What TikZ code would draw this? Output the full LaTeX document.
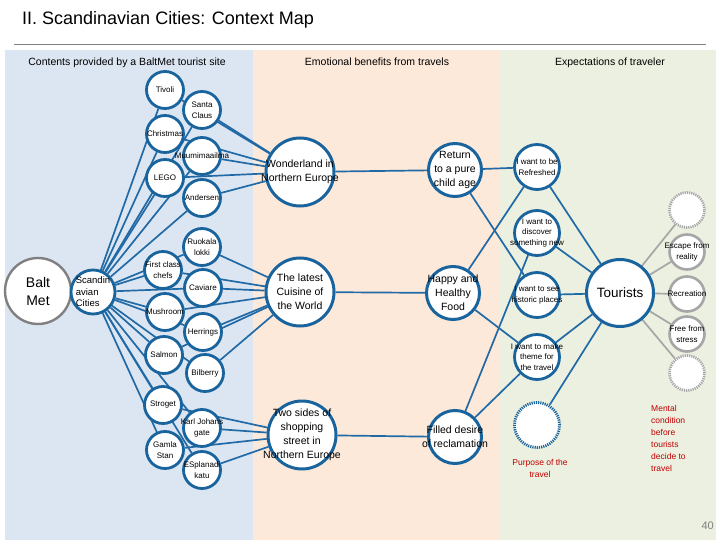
\documentclass[tikz,border=0pt]{standalone}
\usepackage{fontspec}
\setmainfont{Liberation Sans}
\pgfdeclarelayer{bgl}
\pgfdeclarelayer{lines}
\pgfsetlayers{bgl,lines,main}
\definecolor{nodeblue}{RGB}{26,100,158}
\definecolor{linecol}{RGB}{34,106,166}
\definecolor{colblue}{RGB}{220,230,242}
\definecolor{colpeach}{RGB}{253,233,217}
\definecolor{colgreen}{RGB}{235,240,224}
\definecolor{rulegray}{RGB}{128,128,128}
\definecolor{softgray}{RGB}{166,166,166}
\definecolor{darkred}{RGB}{192,0,0}
\begin{document}
\begin{tikzpicture}[x=1pt,y=-1pt,
  lbl/.style={align=center,inner sep=0pt,font=\fontsize{8}{10.5}\selectfont},
  lblmid/.style={align=center,inner sep=0pt,font=\fontsize{10.5}{14}\selectfont},
  small/.style={circle,draw=nodeblue,line width=2.8pt,fill=white,minimum size=37pt,inner sep=0pt},
  midc/.style={circle,draw=nodeblue,line width=3pt,fill=white,minimum size=68pt,inner sep=0pt},
  midr/.style={circle,draw=nodeblue,line width=3pt,fill=white,minimum size=53pt,inner sep=0pt},
  rtc/.style={circle,draw=nodeblue,line width=2.8pt,fill=white,minimum size=45pt,inner sep=0pt},
  grayc/.style={circle,draw=softgray,line width=2.6pt,fill=white,minimum size=35pt,inner sep=0pt},
  graydot/.style={circle,draw=softgray,line width=2.6pt,dash pattern=on 1.2pt off 1pt,fill=white,minimum size=35pt,inner sep=0pt},
  conn/.style={draw=linecol,line width=1.7pt},
  gconn/.style={draw=softgray,line width=1.7pt},
  header/.style={font=\fontsize{10.5}{12}\selectfont,inner sep=0pt,anchor=base},
  redtext/.style={text=darkred,font=\fontsize{8.5}{12}\selectfont,inner sep=0pt}
]
\useasboundingbox (0,0) rectangle (720,540);
\begin{pgfonlayer}{bgl}
  \fill[white] (0,0) rectangle (720,540);
  \fill[colblue] (5,50) rectangle (253,540);
  \fill[colpeach] (253,50) rectangle (500,540);
  \fill[colgreen] (500,50) rectangle (716,540);
  \draw[rulegray,line width=1pt] (14,45) -- (706,45);
\end{pgfonlayer}

\node[anchor=west,inner sep=0pt,font=\fontsize{18}{20}\selectfont] (title) at (22,20) {II. Scandinavian Cities: Context Map};
\node[header] (h1) at (127,66) {Contents provided by a BaltMet tourist site};
\node[header] (h2) at (377,66) {Emotional benefits from travels};
\node[header] (h3) at (610,66) {Expectations of traveler};

% Balt Met and Scandinavian
\node[circle,draw=rulegray,line width=2.4pt,fill=white,minimum size=66pt,inner sep=0pt,
  label={[align=center,inner sep=0pt,font=\fontsize{14}{18}\selectfont]center:{Balt\\Met}}] (balt) at (38,291) {};
\node[circle,draw=nodeblue,line width=2.8pt,fill=white,minimum size=44pt,inner sep=0pt,
  label={[align=left,inner sep=0pt,font=\fontsize{9.5}{11.5}\selectfont]center:{Scandin\\avian\\Cities}}] (scan) at (93,292) {};

% left small nodes
\node[small,label={[lbl]center:Tivoli}] (tiv) at (165,90) {};
\node[small,label={[lbl]center:{Santa\\Claus}}] (san) at (202,110) {};
\node[small,label={[lbl]center:Christmas}] (chr) at (165,134) {};
\node[small,label={[lbl]center:Muumimaailma}] (muu) at (202,156) {};
\node[small,label={[lbl]center:LEGO}] (leg) at (165,178) {};
\node[small,label={[lbl]center:Andersen}] (and) at (202,198) {};
\node[small,label={[lbl]center:{Ruokala\\lokki}}] (ruo) at (202,247) {};
\node[small,label={[lbl]center:{First class\\chefs}}] (fir) at (163,270) {};
\node[small,label={[lbl]center:Caviare}] (cav) at (203,288) {};
\node[small,label={[lbl]center:Mushroom}] (mus) at (165,312) {};
\node[small,label={[lbl]center:Herrings}] (her) at (203,332) {};
\node[small,label={[lbl]center:Salmon}] (sal) at (164,355) {};
\node[small,label={[lbl]center:Bilberry}] (bil) at (205,373) {};
\node[small,label={[lbl]center:Stroget}] (str) at (163,405) {};
\node[small,label={[lbl]center:{Karl Johans\\gate}}] (kar) at (202,428) {};
\node[small,label={[lbl]center:{Gamla\\Stan}}] (gam) at (165,450) {};
\node[small,label={[lbl]center:{ESplanadi\\katu}}] (esp) at (202,470) {};

% middle column
\node[midc,label={[lblmid]center:{Wonderland in\\Northern Europe}}] (won) at (300,172) {};
\node[midc,label={[lblmid]center:{The latest\\Cuisine of\\the World}}] (cui) at (300,292) {};
\node[midc,label={[lblmid]center:{Two sides of\\shopping\\street in\\Northern Europe}}] (two) at (302,435) {};
\node[midr,label={[lblmid]center:{Return\\to a pure\\child age}}] (ret) at (455,170) {};
\node[midr,label={[lblmid]center:{Happy and\\Healthy\\Food}}] (hap) at (453,293) {};
\node[midr,label={[lblmid]center:{Filled desire\\of reclamation}}] (fil) at (455,437) {};

% right column
\node[rtc,label={[lbl]center:{I want to be\\Refreshed}}] (ref) at (537,167) {};
\node[rtc,label={[lbl]center:{I want to\\discover\\something new}}] (dis) at (537,233) {};
\node[rtc,label={[lbl]center:{I want to see\\historic places}}] (his) at (537,295) {};
\node[rtc,label={[lbl]center:{I want to make\\theme for\\the travel}}] (the) at (537,357) {};
\node[circle,draw=nodeblue,line width=2.8pt,dash pattern=on 1.2pt off 1pt,fill=white,minimum size=45pt,inner sep=0pt] (pur) at (537,425) {};
\node[circle,draw=nodeblue,line width=3pt,fill=white,minimum size=67pt,inner sep=0pt,
  label={[align=center,inner sep=0pt,font=\fontsize{13.5}{16}\selectfont]center:Tourists}] (tou) at (620,293) {};

\node[graydot] (g1) at (687,210) {};
\node[grayc,label={[lbl]center:{Escape from\\reality}}] (g2) at (687,252) {};
\node[grayc,label={[lbl]center:Recreation}] (g3) at (687,294) {};
\node[grayc,label={[lbl]center:{Free from\\stress}}] (g4) at (687,334) {};
\node[graydot] (g5) at (687,373) {};

\node[redtext,align=center] (purt) at (540,468) {Purpose of the\\travel};
\node[redtext,align=left,anchor=north west] (ment) at (651,405) {Mental\\condition\\before\\tourists\\decide to\\travel};
\node[anchor=east,inner sep=0pt,text=rulegray,font=\fontsize{11}{12}\selectfont] (pg) at (714,526) {40};

\begin{pgfonlayer}{lines}
  \foreach \n in {tiv,san,chr,muu,leg,and,ruo,fir,cav,mus,her,sal,bil,str,kar,gam,esp}
    \draw[conn] (scan) -- (\n);
  \foreach \n in {tiv,san,chr,muu,leg,and}
    \draw[conn] (\n) -- (won);
  \foreach \n in {ruo,fir,cav,mus,her,sal,bil}
    \draw[conn] (\n) -- (cui);
  \foreach \n in {str,kar,gam,esp}
    \draw[conn] (\n) -- (two);
  \draw[conn] (won) -- (ret);
  \draw[conn] (cui) -- (hap);
  \draw[conn] (two) -- (fil);
  \draw[conn] (ret) -- (ref);
  \draw[conn] (ret) -- (his);
  \draw[conn] (hap) -- (ref);
  \draw[conn] (hap) -- (the);
  \draw[conn] (fil) -- (dis);
  \draw[conn] (fil) -- (the);
  \foreach \n in {ref,dis,his,the,pur}
    \draw[conn] (\n) -- (tou);
  \foreach \n in {g1,g2,g3,g4,g5}
    \draw[gconn] (tou) -- (\n);
\end{pgfonlayer}
\end{tikzpicture}
\end{document}
